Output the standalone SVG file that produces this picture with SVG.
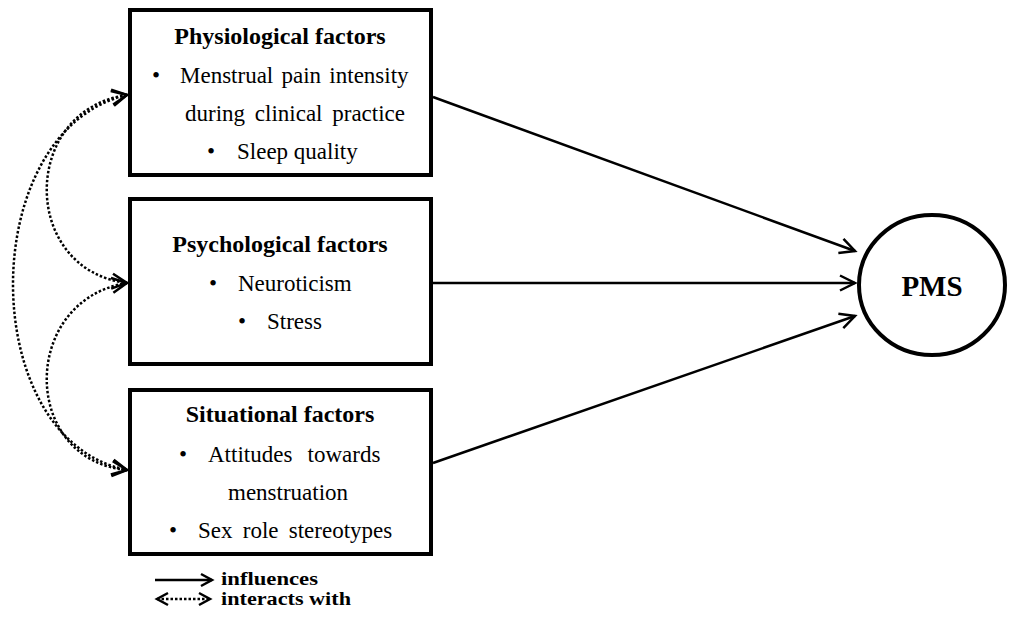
<svg xmlns="http://www.w3.org/2000/svg" width="1013" height="623" viewBox="0 0 1013 623">
<style>
.box{fill:#fff;stroke:#000;stroke-width:4}
.t{font-family:"Liberation Serif","Times New Roman",serif;font-size:23px;fill:#000}
.h{font-family:"Liberation Serif","Times New Roman",serif;font-size:24px;font-weight:bold;fill:#000}
.lg{font-family:"Liberation Serif","Times New Roman",serif;font-size:18px;font-weight:bold;fill:#000}
.inf{fill:none;stroke:#000;stroke-width:2.5}
.dot{fill:none;stroke:#000;stroke-width:2.5;stroke-dasharray:2.5 2}
</style>
<defs>
<marker id="ah" markerUnits="userSpaceOnUse" markerWidth="20" markerHeight="20" viewBox="-2 -2 20 20" refX="15" refY="7.5" orient="auto-start-reverse">
<path d="M0,0 L15,7.5 L0,15" fill="none" stroke="#000" stroke-width="2.5"/>
</marker>
<marker id="ahs" markerUnits="userSpaceOnUse" markerWidth="16" markerHeight="16" viewBox="-2 -2 16 16" refX="11" refY="6" orient="auto-start-reverse">
<path d="M0,0 L11,6 L0,12" fill="none" stroke="#000" stroke-width="2.5"/>
</marker>
</defs>

<g id="connectors">
<path class="inf" d="M433,97 L855,251" marker-end="url(#ah)"/>
<path class="inf" d="M433,283 L855,283" marker-end="url(#ah)"/>
<path class="inf" d="M433,463 L855,316" marker-end="url(#ah)"/>
<path class="dot" d="M127,95 C20,110 20,270 127,283" marker-start="url(#ah)" marker-end="url(#ah)"/>
<path class="dot" d="M127,283 C20,300 20,460 127,470" marker-start="url(#ah)" marker-end="url(#ah)"/>
<path class="dot" d="M127,95 C-25,130 -25,440 127,470" marker-start="url(#ah)" marker-end="url(#ah)"/>
</g>

<g id="physiological">
<rect class="box" x="130" y="10" width="301" height="165"/>
<text class="h" x="280" y="44" text-anchor="middle">Physiological factors</text>
<text class="t" x="156" y="83" text-anchor="middle">•</text>
<text class="t" x="180" y="83" word-spacing="2.5">Menstrual pain intensity</text>
<text class="t" x="185" y="121" word-spacing="4">during clinical practice</text>
<text class="t" x="211" y="159" text-anchor="middle">•</text>
<text class="t" x="237" y="159">Sleep quality</text>
</g>

<g id="psychological">
<rect class="box" x="130" y="199" width="301" height="165"/>
<text class="h" x="280" y="252" text-anchor="middle">Psychological factors</text>
<text class="t" x="213" y="291" text-anchor="middle">•</text>
<text class="t" x="238" y="291">Neuroticism</text>
<text class="t" x="242" y="329" text-anchor="middle">•</text>
<text class="t" x="267" y="329">Stress</text>
</g>

<g id="situational">
<rect class="box" x="130" y="390" width="301" height="164"/>
<text class="h" x="280" y="422" text-anchor="middle">Situational factors</text>
<text class="t" x="183" y="462" text-anchor="middle">•</text>
<text class="t" x="208" y="462" word-spacing="9.5">Attitudes towards</text>
<text class="t" x="228" y="500">menstruation</text>
<text class="t" x="173" y="538" text-anchor="middle">•</text>
<text class="t" x="198" y="538" word-spacing="4.5">Sex role stereotypes</text>
</g>

<g id="pms">
<ellipse cx="932" cy="285" rx="73" ry="70" fill="#fff" stroke="#000" stroke-width="4"/>
<text x="932" y="296" text-anchor="middle" font-family="Liberation Serif, Times New Roman, serif" font-size="29" font-weight="bold">PMS</text>
</g>

<g id="legend">
<path class="inf" d="M155,580 L212,580" marker-end="url(#ahs)"/>
<text class="lg" x="221" y="585" textLength="97" lengthAdjust="spacingAndGlyphs">influences</text>
<path class="dot" d="M157,599 L210,599" marker-start="url(#ahs)" marker-end="url(#ahs)"/>
<text class="lg" x="221" y="605" textLength="130" lengthAdjust="spacingAndGlyphs">interacts with</text>
</g>
</svg>
